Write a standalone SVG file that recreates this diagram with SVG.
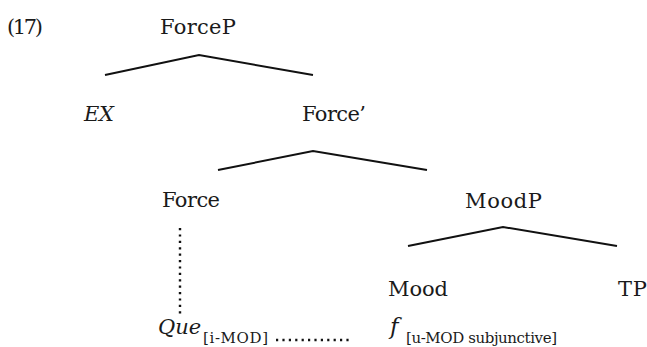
<svg xmlns="http://www.w3.org/2000/svg" width="647" height="347" viewBox="0 0 647 347">
<style>
text{font-family:"DejaVu Serif","Liberation Serif",serif;font-size:21px;fill:#1a1a1a}
.it{font-style:italic}
.big{font-size:23px}
.sub{font-size:15px}
.br{fill:none;stroke:#111;stroke-width:2}
.dot{fill:none;stroke:#111;stroke-width:2.4;stroke-dasharray:2.2 4.2}
</style>
<rect width="647" height="347" fill="#fff"/>
<text x="7" y="34" textLength="36">(17)</text>
<g id="connectors">
<polyline class="br" points="105,75 199,55 313,75"/>
<polyline class="br" points="218,170 313,151 427,170"/>
<polyline class="br" points="408,246 503,227 617,246"/>
<line class="dot" x1="180" y1="228" x2="180" y2="315"/>
<line class="dot" x1="276" y1="340" x2="352" y2="340"/>
</g>
<g id="forceP"><text x="160" y="34" textLength="76">ForceP</text></g>
<g id="ex"><text class="it" x="84" y="121" textLength="30">EX</text></g>
<g id="forceBar"><text x="302" y="121" textLength="64">Force’</text></g>
<g id="force"><text x="162" y="207" textLength="58">Force</text></g>
<g id="moodP"><text x="465" y="208" textLength="77">MoodP</text></g>
<g id="mood"><text x="388" y="296" textLength="60">Mood</text></g>
<g id="tp"><text x="618" y="296" textLength="29">TP</text></g>
<g id="que"><text class="it" x="158" y="334">Que</text><text class="sub" x="203" y="343" textLength="65">[i-MOD]</text></g>
<g id="f"><text class="it big" x="390" y="334">f</text><text class="sub" x="406" y="343" textLength="151">[u-MOD subjunctive]</text></g>
</svg>
